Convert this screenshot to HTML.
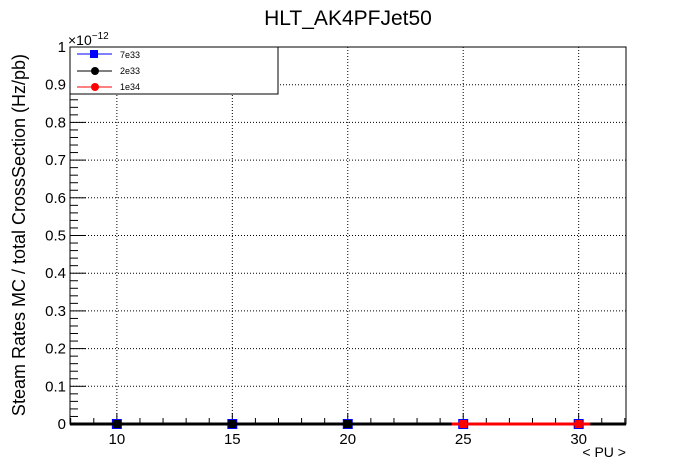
<!DOCTYPE html>
<html><head><meta charset="utf-8"><style>
body{margin:0;background:#fff;}
svg{display:block;font-family:"Liberation Sans",sans-serif;}
</style></head><body>
<svg id="c" width="696" height="472"></svg>
<script>
const xTicks=[10,15,20,25,30];
const yTicks=[0,0.1,0.2,0.3,0.4,0.5,0.6,0.7,0.8,0.9,1];
const yLabels=["0","0.1","0.2","0.3","0.4","0.5","0.6","0.7","0.8","0.9","1"];
const pu7e33=[10,15,20,25,30];
const val7e33=[0,0,0,0,0];
const pu2e33=[10,15,20,25,30];
const val2e33=[0,0,0,0,0];
const pu1e34=[25,30];
const val1e34=[0,0];
const L=70,R=626,T=47,B=424,xmin=7.97,xmax=32.05;
const X=v=>L+(v-xmin)/(xmax-xmin)*(R-L);
const Y=v=>B-v*(B-T);
const svg=document.getElementById('c');
const NS="http://www.w3.org/2000/svg";
function mk(t,a,p){const e=document.createElementNS(NS,t);for(const k in a)e.setAttribute(k,a[k]);(p||svg).appendChild(e);return e;}
xTicks.forEach(v=>{const g=mk('line',{x1:X(v),x2:X(v),y1:T,y2:B,stroke:'#000','stroke-dasharray':'1,2','stroke-width':1});

});
yTicks.forEach(v=>{if(v===0)return;const g=mk('line',{x1:L,x2:R,y1:Y(v),y2:Y(v),stroke:'#000','stroke-dasharray':'1,2','stroke-width':1});

});
const f=mk('rect',{x:L,y:T,width:R-L,height:B-T,fill:'none',stroke:'#000'});


const xa=mk('line',{x1:L,x2:R,y1:B,y2:B,stroke:'#000','stroke-width':3});


for(let v=8;v<=32;v++){const major=v%5===0;mk('line',{x1:X(v),x2:X(v),y1:B,y2:B-(major?11:6),stroke:'#000'});}
xTicks.forEach(v=>{const t=mk('text',{x:X(v),y:B+20,'text-anchor':'middle','font-size':15});t.textContent=v;

});
for(let i=0;i<=50;i++){const v=i/50;const major=i%5===0;mk('line',{x1:L,x2:L+(major?16:8),y1:Y(v),y2:Y(v),stroke:'#000'});}
yTicks.forEach((v,i)=>{const t=mk('text',{x:L-4,y:Y(v)+5,'text-anchor':'end','font-size':15});t.textContent=yLabels[i];

});
function series(xs,ys,color,shape,name){
 const pts=xs.map((x,i)=>[X(x),Y(ys[i])]);
 const pl=mk('polyline',{points:pts.map(p=>p.join(',')).join(' '),fill:'none',stroke:color,'stroke-width':3});
 
 
 xs.forEach((x,i)=>{mk('line',{x1:X(x-0.5),x2:X(x+0.5),y1:Y(ys[i]),y2:Y(ys[i]),stroke:color,'stroke-width':3});});
 pts.forEach(p=>{let m;if(shape==='sq')m=mk('rect',{x:p[0]-5,y:p[1]-5,width:10,height:10,fill:color});else m=mk('rect',{x:p[0]-4,y:p[1]-4,width:8,height:8,fill:color});
 
 });
}
series(pu7e33,val7e33,'#0000ff','sq','series-7e33');
series(pu2e33,val2e33,'#000','c','series-2e33');
series(pu1e34,val1e34,'#ff0000','c','series-1e34');
</script>
<svg style="position:absolute;left:0;top:0" width="696" height="472">
<text x="348" y="25" text-anchor="middle" font-size="21">HLT_AK4PFJet50</text>
<text x="68" y="45" font-size="14">×10<tspan font-size="10" dy="-6">−12</tspan></text>
<text transform="translate(25,235) rotate(-90)" text-anchor="middle" font-size="18">Steam Rates MC / total CrossSection (Hz/pb)</text>
<text x="626" y="457" text-anchor="end" font-size="14">&lt; PU &gt;</text>
<g>
<rect x="70" y="47" width="208" height="47" fill="#fff" stroke="#000"/>
<line x1="77" x2="112" y1="54" y2="54" stroke="#00f"/><rect x="90" y="50" width="8" height="8" fill="#00f"/>
<text x="120" y="58" font-size="9">7e33</text>
<line x1="77" x2="112" y1="71" y2="71" stroke="#000"/><circle cx="95" cy="71" r="4" fill="#000"/>
<text x="120" y="74" font-size="9">2e33</text>
<line x1="77" x2="112" y1="87" y2="87" stroke="#f00"/><circle cx="95" cy="87" r="4" fill="#f00"/>
<text x="120" y="90" font-size="9">1e34</text>
</g>
</svg>
</body></html>
